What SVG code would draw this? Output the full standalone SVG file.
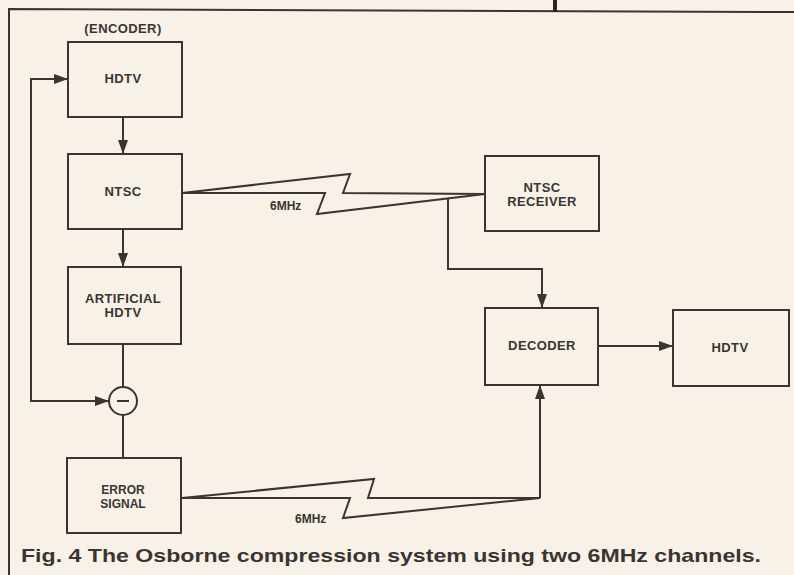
<svg xmlns="http://www.w3.org/2000/svg" width="794" height="575" viewBox="0 0 794 575">
<defs>
<style>
.box{fill:none;stroke:#3a3533;stroke-width:2}
.ln{fill:none;stroke:#3a3533;stroke-width:2}
.t{font-family:"Liberation Sans",Arial,sans-serif;font-weight:bold;font-size:13px;fill:#3a3533;text-anchor:middle;letter-spacing:0.4px}
.t2{font-family:"Liberation Sans",Arial,sans-serif;font-weight:bold;font-size:12px;fill:#3a3533;text-anchor:middle}
.lab{font-family:"Liberation Sans",Arial,sans-serif;font-weight:bold;font-size:12px;fill:#3a3533}
</style>
<marker id="ah2" viewBox="0 0 14 10" refX="14" refY="5" markerWidth="14" markerHeight="10" markerUnits="userSpaceOnUse" orient="auto">
<path d="M0,0 L14,5 L0,10 Z" fill="#3a3533"/>
</marker>
</defs>
<rect x="0" y="0" width="794" height="575" fill="#f8f1e7"/>
<g id="frame">
<path d="M9,575 L9,9 L794,12" class="ln" stroke-width="2.2"/>
<line x1="555" y1="0" x2="555" y2="12" stroke="#2a2523" stroke-width="4"/>
</g>
<g id="connectors">
<line x1="123" y1="117" x2="123" y2="154" class="ln" marker-end="url(#ah2)"/>
<line x1="123" y1="229" x2="123" y2="267" class="ln" marker-end="url(#ah2)"/>
<line x1="123" y1="344" x2="123" y2="387" class="ln"/>
<line x1="123" y1="415" x2="123" y2="458" class="ln"/>
<path d="M109,401 L31,401 L31,79 L68,79" class="ln" marker-end="url(#ah2)"/>
<line x1="31" y1="401" x2="109" y2="401" class="ln" marker-end="url(#ah2)"/>
<path d="M182,193 L350,174 L343,193 L485,194 L317,214 L325,193 Z" class="ln"/>
<path d="M448,198 L448,269 L542,269 L542,308" class="ln" marker-end="url(#ah2)"/>
<path d="M182,498 L374,479 L368,498 L540,498 L343,518 L350,498 Z" class="ln"/>
<path d="M540,498 L540,385" class="ln" marker-end="url(#ah2)"/>
<line x1="598" y1="346" x2="673" y2="346" class="ln" marker-end="url(#ah2)"/>
<text x="270" y="210" class="lab">6MHz</text>
<text x="295" y="523" class="lab">6MHz</text>
</g>
<g id="hdtv-enc">
<text x="123" y="33" class="t" font-size="12">(ENCODER)</text>
<rect x="68" y="42" width="114" height="75" class="box"/>
<text x="123" y="83" class="t">HDTV</text>
</g>
<g id="ntsc">
<rect x="68" y="154" width="114" height="75" class="box"/>
<text x="123" y="196" class="t">NTSC</text>
</g>
<g id="artificial">
<rect x="68" y="267" width="113" height="77" class="box"/>
<text x="123" y="303" class="t">ARTIFICIAL</text>
<text x="123" y="317" class="t">HDTV</text>
</g>
<g id="subtract">
<circle cx="123" cy="401" r="14" class="box"/>
<line x1="117" y1="401" x2="129" y2="401" class="ln"/>
</g>
<g id="error">
<rect x="67" y="458" width="114" height="75" class="box"/>
<text x="123" y="494" class="t2">ERROR</text>
<text x="123" y="508" class="t2">SIGNAL</text>
</g>
<g id="receiver">
<rect x="485" y="156" width="114" height="75" class="box"/>
<text x="542" y="192" class="t">NTSC</text>
<text x="542" y="206" class="t">RECEIVER</text>
</g>
<g id="decoder">
<rect x="485" y="308" width="113" height="77" class="box"/>
<text x="542" y="350" class="t">DECODER</text>
</g>
<g id="hdtv-out">
<rect x="673" y="310" width="116" height="76" class="box"/>
<text x="730" y="352" class="t">HDTV</text>
</g>
<text x="21" y="562" font-family="'Liberation Sans',Arial,sans-serif" font-weight="bold" font-size="19" fill="#3a3533" textLength="740" lengthAdjust="spacingAndGlyphs">Fig. 4 The Osborne compression system using two 6MHz channels.</text>
</svg>
